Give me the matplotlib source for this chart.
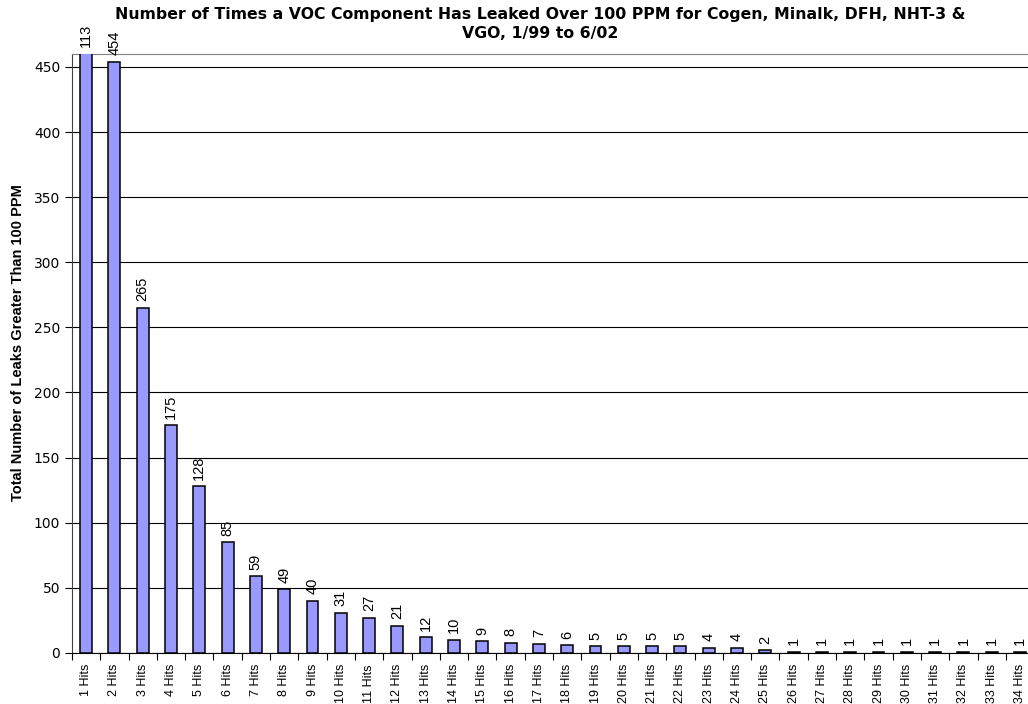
import matplotlib
matplotlib.use('Agg')
import matplotlib.pyplot as plt
import numpy as np

plt.rcParams['font.family'] = ['Liberation Sans', 'DejaVu Sans']

# leak counts by number of hits (first bar runs off the top of the chart)
hits = ['%d Hits' % i for i in range(1, 35)]
leaks = [1113, 454, 265, 175, 128, 85, 59, 49, 40, 31, 27, 21, 12, 10, 9, 8, 7, 6,
         5, 5, 5, 5, 4, 4, 2, 1, 1, 1, 1, 1, 1, 1, 1, 1]
bar_labels = ['113', '454', '265', '175', '128', '85', '59', '49', '40', '31', '27',
              '21', '12', '10', '9', '8', '7', '6', '5', '5', '5', '5', '4', '4', '2',
              '1', '1', '1', '1', '1', '1', '1', '1', '1']

title_lines = ['Number of Times a VOC Component Has Leaked Over 100 PPM for Cogen, Minalk, DFH, NHT-3 &',
               'VGO, 1/99 to 6/02']
ylabel = 'Total Number of Leaks Greater Than 100 PPM'

fig = plt.figure(figsize=(10.28, 7.04), dpi=100)
ax = fig.add_axes([0.070, 0.0725, 0.936, 0.851])

x = np.arange(len(hits))
ymax = 460
ax.bar(x, leaks, width=0.42, color='#9999FF', edgecolor='black', linewidth=1.1, zorder=3)

for xi, v, lab in zip(x, leaks, bar_labels):
    top = min(v, ymax)
    ax.text(xi, top + 5, lab, rotation=90, ha='center', va='bottom', fontsize=10.5,
            clip_on=False)

ax.set_xlim(-0.5, len(hits) - 0.5)
ax.set_ylim(0, ymax)
ax.set_yticks(np.arange(0, 451, 50))
ax.yaxis.grid(True, color='black', linewidth=0.8)
ax.set_axisbelow(True)
ax.tick_params(axis='y', length=5, width=0.8, direction='out')
for lbl in ax.get_yticklabels():
    lbl.set_fontfamily('DejaVu Sans')
    lbl.set_fontsize(10)

ax.set_xticks(x)
ax.set_xticklabels(hits, rotation=90, fontsize=9)
ax.set_xticks(np.arange(-0.5, len(hits)), minor=True)
ax.tick_params(axis='x', which='major', length=0, pad=8)
ax.tick_params(axis='x', which='minor', length=5, width=0.8)

ax.spines['right'].set_visible(False)
ax.spines['top'].set_color('#808080')
ax.spines['left'].set_color('#404040')
ax.spines['bottom'].set_color('black')

fig.text(18 / 1028, 1 - 343 / 704, ylabel, rotation=90, ha='center', va='center',
         fontsize=10.5, fontweight='bold')
for i, line in enumerate(title_lines):
    fig.text(0.525, 1 - (14 + 19 * i) / 704, line, ha='center', va='center',
             fontsize=11.3, fontweight='bold', family='DejaVu Sans')

fig.savefig('out.png', dpi=100)
